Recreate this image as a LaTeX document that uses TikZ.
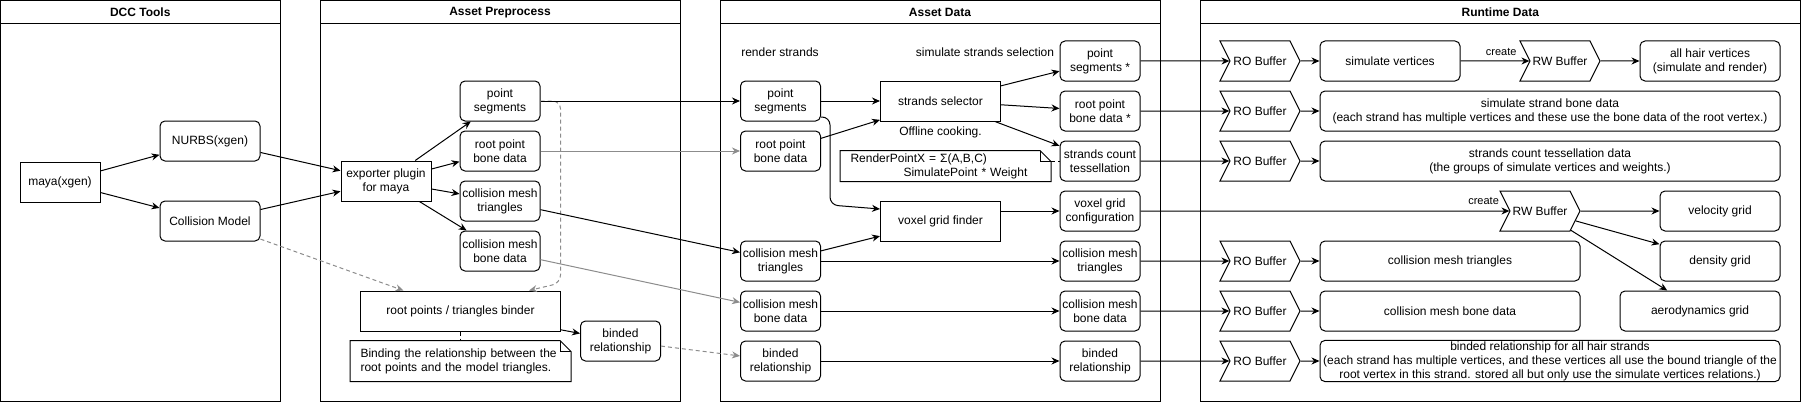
\documentclass[tikz,border=0pt]{standalone}
\usepackage{fontspec}
\setmainfont{Liberation Sans}
\usetikzlibrary{shapes}
\usetikzlibrary{calc}
\usetikzlibrary{positioning}
\usetikzlibrary{arrows.meta}

\definecolor{linkgray}{HTML}{8C8C8C}

\begin{document}
\begin{tikzpicture}[x = 1pt, y = -1pt, line width = 1pt,
    font = \fontsize{12}{14}\selectfont,
    lane/.style = {draw, line width = 1pt},
    box/.style = {draw, rounded corners = 5pt, minimum height = 40pt, inner sep = 1pt, align = center},
    databox/.style = {box, minimum width = 80pt},
    plain/.style = {draw, minimum height = 40pt, inner sep = 1pt, align = center},
    buffer/.style = {draw, signal, signal from = west, signal to = east, signal pointer angle = 127,
                     minimum width = 80pt, minimum height = 40pt, inner sep = 0pt},
    note/.style = {minimum height = 40pt, inner xsep = 10pt, inner ysep = 0pt, align = left},
    arr/.style = {-{Stealth[length = 8pt, width = 7pt]}},
    grayarr/.style = {arr, draw = linkgray},
    dasharr/.style = {grayarr, dash pattern = on 4pt off 3pt},
    lbl/.style = {font = \fontsize{11}{12}\selectfont, inner sep = 0pt}]

    \useasboundingbox (0,0) rectangle (1801,404);

    \foreach \l/\r/\t in {0.5/280/DCC Tools, 320/680/Asset Preprocess, 720/1160/Asset Data, 1200/1800.5/Runtime Data} {
        \draw[lane] (\l,1) rectangle (\r,401);
        \draw[lane] (\l,24) -- (\r,24);
        \node [font = \fontsize{12}{14}\selectfont\bfseries] at ({(\l+\r)/2},12.5) {\t};
    }

    \begin{scope}[on grid]

        \node (maya) [plain, minimum width = 80pt] at (60,182) {maya(xgen)};
        \node (nurbs) [box, minimum width = 100pt] at (210,141) {NURBS(xgen)};
        \node (cmodel) [box, minimum width = 100pt, below = 80pt of nurbs] {Collision Model};

        \node (exporter) [plain, minimum width = 90pt] at (386,181) {exporter plugin\\for maya};
        \node (pps) [databox] at (500,101) {point\\segments};
        \node (prb) [databox, below = 50pt of pps] {root point\\bone data};
        \node (pct) [databox, below = 50pt of prb] {collision mesh\\triangles};
        \node (pcb) [databox, below = 50pt of pct] {collision mesh\\bone data};
        \node (binder) [plain, minimum width = 200pt] at (460.5,311) {root points / triangles binder};
        \node (bnote) [note, text width = 200pt, below = 50pt of binder] {Binding the relationship between the\\root points and the model triangles.};
        \node (pbr) [databox] at (620.5,341) {binded\\relationship};

        \node (rstr) at (780,52) {render strands};
        \node (sstr) at (985,52) {simulate strands selection};
        \node (aps) [databox] at (780.5,101) {point\\segments};
        \node (arb) [databox, below = 50pt of aps] {root point\\bone data};
        \node (act) [databox, below = 160pt of aps] {collision mesh\\triangles};
        \node (acb) [databox, below = 50pt of act] {collision mesh\\bone data};
        \node (abr) [databox, below = 50pt of acb] {binded\\relationship};

        \node (ss) [plain, minimum width = 120pt] at (940.5,101) {strands selector};
        \node (cook) [below = 31pt of ss] {Offline cooking.};
        \node (fnote) [note, minimum height = 30pt, text width = 190pt] at (945.5,166)
            {RenderPointX = Σ(A,B,C)\\\hspace*{53pt}SimulatePoint * Weight};
        \node (vgf) [plain, minimum width = 120pt, below = 120pt of ss] {voxel grid finder};

        \node (rps) [databox] at (1100,61) {point\\segments *};
        \node (rrb) [databox, below = 50pt of rps] {root point\\bone data *};
        \node (rct) [databox, below = 50pt of rrb] {strands count\\tessellation};
        \node (rvg) [databox, below = 50pt of rct] {voxel grid\\configuration};
        \node (rcm) [databox, below = 50pt of rvg] {collision mesh\\triangles};
        \node (rcb) [databox, below = 50pt of rcm] {collision mesh\\bone data};
        \node (rbr) [databox, below = 50pt of rcb] {binded\\relationship};

        \foreach \n/\y in {ro1/61, ro2/111, ro3/161, ro5/261, ro6/311, ro7/361}
            \node (\n) [buffer] at (1260,\y) {RO Buffer};

        \node (sv) [box, minimum width = 140pt] at (1390,61) {simulate vertices};
        \node (rw1) [buffer] at (1560,61) {RW Buffer};
        \node (ahv) [box, minimum width = 140pt] at (1710,61) {all hair vertices\\(simulate and render)};
        \node (ssb) [box, minimum width = 460pt] at (1550,111)
            {simulate strand bone data\\(each strand has multiple vertices and these use the bone data of the root vertex.)};
        \node (sct) [box, minimum width = 460pt] at (1550,161)
            {strands count tessellation data\\(the groups of simulate vertices and weights.)};
        \node (rw2) [buffer] at (1540,211) {RW Buffer};
        \node (vel) [box, minimum width = 120pt] at (1720,211) {velocity grid};
        \node (den) [box, minimum width = 120pt, below = 50pt of vel] {density grid};
        \node (aero) [box, minimum width = 160pt] at (1700,311) {aerodynamics grid};
        \node (cmt) [box, minimum width = 260pt] at (1450,261) {collision mesh triangles};
        \node (cmb) [box, minimum width = 260pt, below = 50pt of cmt] {collision mesh bone data};
        \node (bra) [box, minimum width = 460pt] at (1550,361)
            {binded relationship for all hair strands\\(each strand has multiple vertices, and these vertices all use the bound triangle of the\\root vertex in this strand. stored all but only use the simulate vertices relations.)};

    \end{scope}

    \foreach \n in {bnote, fnote} {
        \draw (\n.north west) -- ([xshift = -11pt]\n.north east) -- ([yshift = -11pt]\n.north east)
            -- (\n.south east) -- (\n.south west) -- cycle;
        \draw ([xshift = -11pt]\n.north east) -- ([xshift = -11pt, yshift = -11pt]\n.north east)
            -- ([yshift = -11pt]\n.north east);
    }

    \draw[arr] (maya) -- (nurbs);
    \draw[arr] (maya) -- (cmodel);
    \draw[arr] (nurbs) -- (exporter);
    \draw[arr] (cmodel) -- (exporter);
    \foreach \b in {pps, prb, pct, pcb}
        \draw[arr] (exporter) -- (\b);

    \draw[dasharr] (cmodel) -- (binder);
    \draw[dasharr, rounded corners = 8pt] (pps.east) -- ++(20,0) -- ++(0,182) -- ([xshift = -32pt]binder.north east);
    \draw[dash pattern = on 4pt off 3pt] (binder) -- (bnote);
    \draw[arr] (binder) -- (pbr);

    \draw[arr] (pps) -- (aps);
    \draw[grayarr] (prb) -- (arb);
    \draw[arr] (pct) -- (act);
    \draw[grayarr] (pcb) -- (acb);
    \draw[dasharr] (pbr) -- (abr);

    \draw[arr] (aps) -- (ss);
    \draw[arr] (arb) -- (ss);
    \draw[arr, rounded corners = 8pt] ([yshift = -16pt]aps.east) -- ++(9,0) -- ++(0,88) -- ([yshift = 12pt]vgf.west);
    \draw[arr] (act) -- (vgf);
    \draw[arr] (ss) -- (rps);
    \draw[arr] (ss) -- (rrb);
    \draw[arr] (ss) -- (rct);
    \draw[dash pattern = on 4pt off 3pt] (rct.west -| fnote.east) -- (rct.west);
    \draw[arr] (vgf.east |- rvg.west) -- (rvg.west);
    \draw[arr] (act) -- (rcm);
    \draw[arr] (acb) -- (rcb);
    \draw[arr] (abr) -- (rbr);

    \foreach \a/\b in {rps/ro1, rrb/ro2, rct/ro3, rcm/ro5, rcb/ro6, rbr/ro7}
        \draw[arr] (\a) -- (\b);
    \foreach \a/\b in {ro1/sv, ro2/ssb, ro3/sct, ro5/cmt, ro6/cmb, ro7/bra}
        \draw[arr] (\a) -- (\b);

    \draw[arr] (sv) -- (rw1) node [lbl, pos = 0.59, yshift = 9pt] {create};
    \draw[arr] (rw1) -- (ahv);
    \draw[arr] (rvg) -- (rw2) node [lbl, pos = 0.93, yshift = 10pt] {create};
    \draw[arr] (rw2) -- (vel);
    \draw[arr] (rw2) -- (den);
    \draw[arr] (rw2) -- (aero);

\end{tikzpicture}
\end{document}
